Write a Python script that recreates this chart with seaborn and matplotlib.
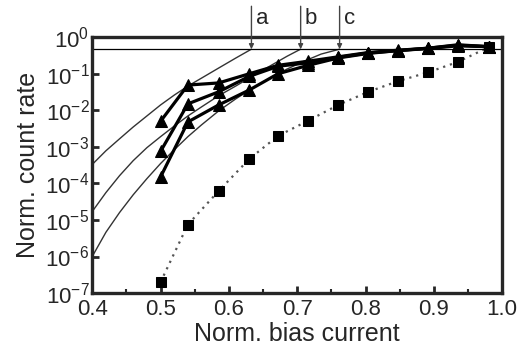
import numpy as np
import pandas as pd
import matplotlib
matplotlib.use('Agg')
import matplotlib.pyplot as plt
import seaborn as sns

# bias points shared by all measured series
bias = [0.5, 0.54, 0.585, 0.63, 0.672, 0.716, 0.76, 0.804, 0.848, 0.892, 0.935, 0.98]

# triangles (three devices)
tri1 = [5e-3, 0.049, 0.056, 0.10, 0.17, 0.22, 0.29, 0.38, 0.44, 0.50, 0.62, 0.55]
tri2 = [7.5e-4, 0.015, 0.032, 0.085, 0.16, 0.20, 0.28, 0.37, 0.43, 0.50, 0.60, 0.55]
tri3 = [1.5e-4, 4.8e-3, 0.014, 0.036, 0.10, 0.17, 0.27, 0.36, 0.43, 0.49, 0.58, 0.55]

# squares
sq = [2e-7, 7.5e-6, 6.2e-5, 4.7e-4, 2.0e-3, 5.2e-3, 0.014, 0.032, 0.063, 0.11, 0.21, 0.53]

# thin fit curves ending at arrows a, b, c
fit_a_x = [0.4, 0.42, 0.44, 0.46, 0.48, 0.5, 0.52, 0.54, 0.56, 0.585, 0.61, 0.633]
fit_a_y = [3.3e-4, 7.8e-4, 1.66e-3, 3.5e-3, 7.0e-3, 0.014, 0.026, 0.046, 0.076, 0.143, 0.268, 0.47]
fit_b_x = [0.4, 0.42, 0.44, 0.46, 0.48, 0.5, 0.52, 0.54, 0.56, 0.585, 0.61, 0.635, 0.66, 0.685, 0.705]
fit_b_y = [1.7e-5, 5.6e-5, 1.63e-4, 4.2e-4, 9.5e-4, 1.9e-3, 3.7e-3, 7.0e-3, 0.0124, 0.025,
           0.046, 0.087, 0.162, 0.30, 0.47]
fit_c_x = [0.4, 0.42, 0.44, 0.46, 0.48, 0.5, 0.52, 0.54, 0.56, 0.585, 0.61, 0.635, 0.66,
           0.685, 0.71, 0.735, 0.762]
fit_c_y = [1.0e-6, 4.6e-6, 1.6e-5, 4.9e-5, 1.35e-4, 3.5e-4, 8.3e-4, 1.9e-3, 4.0e-3, 9.6e-3,
           0.0205, 0.041, 0.076, 0.134, 0.22, 0.345, 0.47]

arrow_x = [0.633, 0.705, 0.762]
arrow_lab = ['a', 'b', 'c']
level = 0.47

sns.set_style('ticks')
plt.rcParams['font.family'] = ['Liberation Sans', 'DejaVu Sans']
plt.rcParams['mathtext.fontset'] = 'custom'
plt.rcParams['mathtext.rm'] = 'Liberation Sans'
plt.rcParams['mathtext.it'] = 'Liberation Sans'

fig = plt.figure(figsize=(5.21, 3.54), dpi=100)
ax = fig.add_axes([0.177, 0.172, 0.787, 0.723])

for fx, fy in [(fit_a_x, fit_a_y), (fit_b_x, fit_b_y), (fit_c_x, fit_c_y)]:
    sns.lineplot(x=fx, y=fy, ax=ax, color='#333333', lw=1.0, sort=False)

for t in [tri1, tri2, tri3]:
    sns.lineplot(x=bias, y=t, ax=ax, color='black', lw=2.3, marker='^',
                 markersize=9, markeredgecolor='black', sort=False)

sns.lineplot(x=bias, y=sq, ax=ax, color='#555555', lw=1.6, ls=(0, (1, 2.2)),
             marker='s', markersize=7, markerfacecolor='black',
             markeredgecolor='black', sort=False)

ax.axhline(level, color='black', lw=0.9)

ax.set_yscale('log')
ax.set_xlim(0.4, 1.0)
ax.set_ylim(1e-7, 1)
ax.set_xticks(np.arange(0.4, 1.01, 0.1))
ax.set_xticks(np.arange(0.45, 1.0, 0.1), minor=True)
ax.set_xticklabels(['0.4', '0.5', '0.6', '0.7', '0.8', '0.9', '1.0'])
ax.set_yticks([10.0 ** k for k in range(-7, 1)])
ax.yaxis.set_minor_locator(matplotlib.ticker.LogLocator(base=10, subs=np.arange(2, 10)))
ax.yaxis.set_minor_formatter(matplotlib.ticker.NullFormatter())

ax.tick_params(which='both', direction='in', top=False, right=False, labelsize=16, pad=2)
ax.tick_params(axis='x', pad=4)
ax.tick_params(which='major', length=5, width=2)
ax.tick_params(which='minor', length=3, width=1.5)
for s in ax.spines.values():
    s.set_linewidth(2.4)

ax.set_xlabel('Norm. bias current', fontsize=18, labelpad=2)
ax.set_ylabel('Norm. count rate', fontsize=18, labelpad=4)

for xa, lab in zip(arrow_x, arrow_lab):
    ax.annotate('', xy=(xa, level), xytext=(xa, 7.0), xycoords='data',
                arrowprops=dict(arrowstyle='-|>', color='#444444', lw=1.0,
                                mutation_scale=7, shrinkA=0, shrinkB=0),
                annotation_clip=False)
    ax.text(xa + 0.006, 3.3, lab, fontsize=16, ha='left', va='center')

fig.savefig('out.png', dpi=100)
